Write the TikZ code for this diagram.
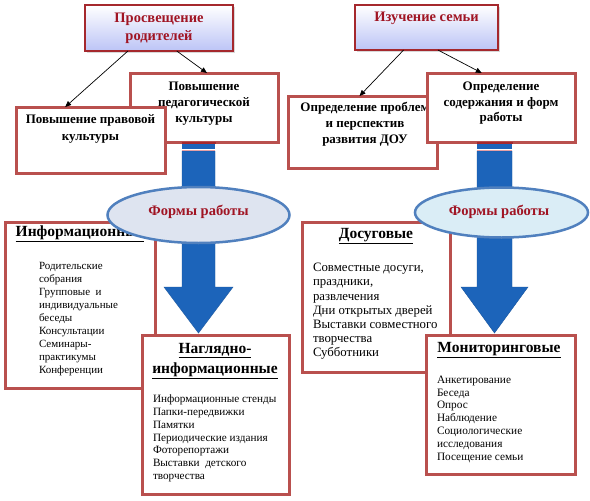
\documentclass[tikz,border=0pt]{standalone}
\usepackage{fontspec}
\setmainfont{Liberation Serif}
\usetikzlibrary{arrows.meta,shadows,calc,shapes.geometric}
\definecolor{boxred}{RGB}{185,80,78}
\definecolor{topred}{RGB}{165,40,45}
\definecolor{titlered}{RGB}{160,20,35}
\definecolor{topblue}{RGB}{188,196,246}
\definecolor{arrowblue}{RGB}{28,100,186}
\definecolor{ellline}{RGB}{80,128,190}
\definecolor{ellfillA}{RGB}{222,228,240}
\definecolor{ellfillB}{RGB}{218,237,246}
\definecolor{stripepink}{RGB}{228,160,165}
\newcommand\myfs[2]{\fontsize{#1}{#2}\selectfont}
\tikzset{
  topbox/.style={draw=topred, line width=1.2pt, top color=white, bottom color=topblue,
    general shadow={fill=black!50, opacity=.3, shadow xshift=1.5pt, shadow yshift=-1.5pt},
    anchor=north west, inner sep=0pt, outer sep=0pt},
  frame/.style={draw=boxred, line width=3pt, fill=white, anchor=north west, inner sep=0pt, outer sep=0pt},
  oval/.style={ellipse, draw=ellline, line width=2.5pt, inner sep=0pt, outer sep=0pt},
  conn/.style={draw=black, line width=0.7pt, -{Triangle[length=6pt,width=5pt]}},
  txt/.style={inner sep=0pt, outer sep=0pt},
  toptext/.style={txt, align=center, anchor=base, text=titlered, font=\bfseries\myfs{14.5}{18}},
  headtext/.style={txt, align=center, anchor=base, font=\bfseries\myfs{13}{16}},
  titletext/.style={txt, align=center, anchor=base, font=\bfseries\myfs{15.5}{20}},
  itemtext/.style={txt, align=left, anchor=base west},
  bigarrow/.style={fill=arrowblue, draw=arrowblue!85!black, line width=0.4pt},
}
\begin{document}
\begin{tikzpicture}[x=1pt,y=-1pt]
\useasboundingbox (0,0) rectangle (590,501);
\fill[white] (0,0) rectangle (590,501);

% top boxes (text nodes anchored at the baseline of their last line)
\node[topbox, minimum width=148pt, minimum height=46pt] (pr) at (85,5) {};
\node[toptext] (prt) at (159,40.7) {Просвещение\\родителей};
\node[topbox, minimum width=143pt, minimum height=45pt] (iz) at (355,5) {};
\node[toptext] (izt) at (426.5,21) {Изучение семьи};

% second row boxes
\node[frame, minimum width=148pt, minimum height=69pt] (pk) at (130,73) {};
\node[headtext] (pkt) at (204,122) {Повышение\\педагогической\\культуры};
\node[frame, minimum width=149pt, minimum height=66pt] (pv) at (16,107) {};
\node[headtext, font=\bfseries\myfs{13}{16.7}] (pvt) at (90.5,140) {Повышение правовой\\культуры};

\node[frame, minimum width=149pt, minimum height=72pt] (op) at (288,96) {};
\node[headtext] (opt) at (365,143.7) {Определение проблем\\и перспектив\\развития ДОУ};
\node[frame, minimum width=148pt, minimum height=69pt] (os) at (427,73) {};
\node[headtext, font=\bfseries\myfs{13}{15.3}] (ost) at (501,121.3) {Определение\\содержания и форм\\работы};

% connectors
\draw[conn] ($(pr.south west)!0.29!(pr.south east)$) -- ($(pv.north west)!0.33!(pv.north east)$);
\draw[conn] ($(pr.south west)!0.62!(pr.south east)$) -- ($(pk.north west)!0.52!(pk.north east)$);
\draw[conn] ($(iz.south west)!0.34!(iz.south east)$) -- ($(op.north west)!0.48!(op.north east)$);
\draw[conn] ($(iz.south west)!0.58!(iz.south east)$) -- ($(os.north west)!0.37!(os.north east)$);

% form boxes
\node[frame, minimum width=150pt, minimum height=166pt] (inf) at (5,222) {};
\node[titletext] (inft) at (80,236) {\underline{Информационные}};
\node[itemtext, font=\myfs{11}{13}] (infi) at (39,373.3) {Родительские\\собрания\\Групповые\ \ и\\индивидуальные\\беседы\\Консультации\\Семинары-\\практикумы\\Конференции};

\node[frame, minimum width=147pt, minimum height=159pt] (nag) at (142,335) {};
\node[titletext] (nagt) at (215,373.3) {\underline{Наглядно-}\\\underline{информационные}};
\node[itemtext, font=\myfs{11.2}{12.8}] (nagi) at (153,479.5) {Информационные стенды\\Папки-передвижки\\Памятки\\Периодические издания\\Фоторепортажи\\Выставки\ \ детского\\творчества};

\node[frame, minimum width=148pt, minimum height=150pt] (dos) at (302,222) {};
\node[titletext] (dost) at (376,238.3) {\underline{Досуговые}};
\node[itemtext, font=\myfs{12.8}{14.2}] (dosi) at (313,356.9) {Совместные досуги,\\праздники,\\развлечения\\Дни открытых дверей\\Выставки совместного\\творчества\\Субботники};

\node[frame, minimum width=149pt, minimum height=139pt] (mon) at (426,335) {};
\node[titletext] (mont) at (499,352.7) {\underline{Мониторинговые}};
\node[itemtext, font=\myfs{11.3}{12.8}] (moni) at (437,460.1) {Анкетирование\\Беседа\\Опрос\\Наблюдение\\Социологические\\исследования\\Посещение семьи};

% big arrows (left)
\path[bigarrow] (182,151) -- (215,151) -- (215,287) -- (233,287) -- (198.5,333) -- (164,287) -- (182,287) -- cycle;
\fill[arrowblue] (182,143.5) rectangle (215,148.5);
\fill[stripepink] (182,148.5) rectangle (215,151.2);
\draw[white, line width=0.9pt] (182,149.9) -- (215,149.9);
\draw[topred, line width=1.2pt] (181.5,142.9) -- (215.5,142.9);
% big arrow (right)
\path[bigarrow] (477,151) -- (512,151) -- (512,287) -- (528,287) -- (494.5,333) -- (461,287) -- (477,287) -- cycle;
\fill[arrowblue] (477,143.5) rectangle (512,148.5);
\fill[stripepink] (477,148.5) rectangle (512,151.2);
\draw[white, line width=0.9pt] (477,149.9) -- (512,149.9);
\draw[topred, line width=1.2pt] (476.5,142.9) -- (512.5,142.9);

% ovals
\node[oval, fill=ellfillA, minimum width=182pt, minimum height=56pt] (fl) at (198.5,215) {};
\node[txt, anchor=base, text=titlered, font=\bfseries\myfs{14.5}{17}] (flt) at (198.5,215) {Формы работы};
\node[oval, fill=ellfillB, minimum width=173pt, minimum height=50pt] (fr) at (501.5,212.5) {};
\node[txt, anchor=base, text=titlered, font=\bfseries\myfs{14.5}{17}] (frt) at (499,215) {Формы работы};
\end{tikzpicture}
\end{document}
